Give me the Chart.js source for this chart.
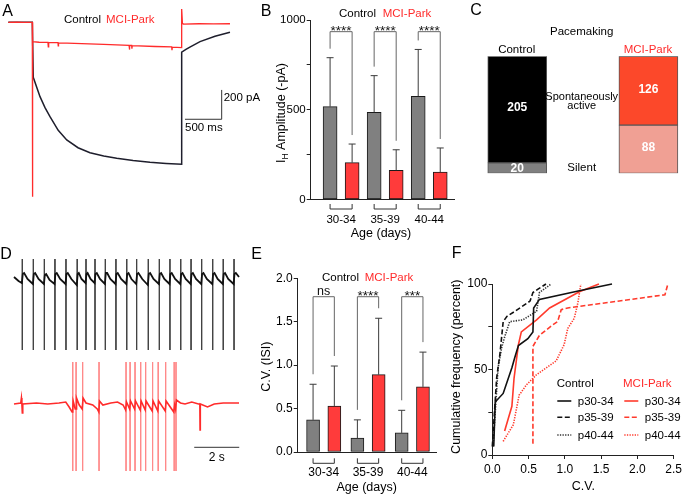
<!DOCTYPE html>
<html>
<head>
<meta charset="utf-8">
<script src="https://cdn.jsdelivr.net/npm/chart.js@4.4.0/dist/chart.umd.min.js"></script>
<style>
  body { margin: 0; background: #fff; }
  #wrap { position: relative; width: 685px; height: 494px; background: #fff; }
  #wrap canvas { position: absolute; left: 0; top: 0; }
</style>
</head>
<body>
<div id="wrap">
  <canvas id="cA" width="685" height="494"></canvas>
  <canvas id="cB" width="685" height="494"></canvas>
  <canvas id="cC" width="685" height="494"></canvas>
  <canvas id="cD" width="685" height="494"></canvas>
  <canvas id="cE" width="685" height="494"></canvas>
  <canvas id="cF" width="685" height="494"></canvas>
</div>
<script>
// ---------- data ----------
// A: Ih current traces [time ms, current pA]
const ihControlTrace = [[0,0],[327,0],[340,-375],[432,-507],[500,-582],[568,-643],[680,-736],[796,-802],[950,-855],[1113,-889],[1300,-912],[1477,-927],[1700,-942],[1930,-954],[2150,-962],[2362,-968],[2362,-204],[2420,-185],[2480,-168],[2612,-132],[2816,-95],[3020,-68]];
const ihParkTrace = [[0,0],[120,1],[200,-1],[327,0],[327,-1190],[331,-150],[335,-132],[420,-136],[540,-137],[545,-168],[550,-138],[677,-139],[680,-160],[684,-140],[800,-142],[1000,-146],[1300,-151],[1645,-157],[1650,-186],[1655,-158],[1681,-158],[1684,-180],[1688,-159],[2000,-165],[2226,-168],[2230,-190],[2234,-169],[2362,-173],[2362,90],[2372,-6],[2385,-12],[2600,-10],[2800,-11],[3020,-10]];

// D: spontaneous firing [time s, mV-ish offset]
const spikeTimesControl = [0.37,0.86,1.35,1.82,2.31,2.81,3.2,3.6,4.06,4.53,5.01,5.45,5.97,6.46,6.93,7.41,7.87,8.34,8.83,9.3,9.78];
const spikeTimesPark = [2.61,2.76,3.05,3.78,4.98,5.16,5.38,5.63,5.85,6.16,6.41,6.74,7.12,7.2];
const controlSpikeTop = 106, controlSpikeBottom = 15;
const parkSpikeTop = 3, parkSpikeBottom = -106;
const firingControlTrace = [
  [0,88],[0.2,84],[0.35,82],
  [0.39,91],[0.45,92],[0.6,86],[0.84,81],
  [0.88,91],[0.94,92],[1.09,86],[1.33,81],
  [1.37,90],[1.43,91],[1.58,85],[1.8,81],
  [1.84,91],[1.9,92],[2.05,86],[2.29,81],
  [2.33,91],[2.39,92],[2.55,86],[2.79,80],
  [2.83,91],[2.88,92],[3.0,86],[3.18,82],
  [3.22,91],[3.27,92],[3.4,86],[3.58,82],
  [3.62,91],[3.68,92],[3.82,86],[4.04,81],
  [4.08,92],[4.14,92],[4.28,86],[4.51,81],
  [4.55,91],[4.61,92],[4.76,86],[4.99,81],
  [5.03,91],[5.09,92],[5.22,86],[5.43,81],
  [5.47,91],[5.53,92],[5.7,86],[5.95,80],
  [5.99,91],[6.05,92],[6.2,86],[6.44,81],
  [6.48,91],[6.54,92],[6.68,86],[6.91,81],
  [6.95,91],[7.01,92],[7.16,86],[7.39,81],
  [7.43,91],[7.49,92],[7.63,86],[7.85,81],
  [7.89,91],[7.95,92],[8.09,86],[8.32,81],
  [8.36,91],[8.42,92],[8.57,86],[8.81,81],
  [8.85,91],[8.91,92],[9.05,86],[9.28,81],
  [9.32,91],[9.38,92],[9.52,86],[9.76,81],
  [9.8,91],[9.86,92],[10.0,88]
];
const firingParkTrace = [
  [0,-39],[0.3,-38],[0.33,-33],[0.35,-39],[0.37,-48],[0.39,-39],[1.0,-38],[1.5,-39],[2.0,-38],[2.3,-37],[2.45,-42],[2.58,-47],[2.61,-45],
  [2.63,-36],[2.72,-44],[2.76,-44],[2.78,-33],[2.9,-40],[3.03,-44],[3.07,-33],[3.2,-38],[3.5,-40],[3.7,-44],[3.77,-47],
  [3.8,-36],[3.95,-40],[4.3,-38],[4.6,-37],[4.85,-40],[4.96,-45],[5.0,-37],[5.14,-44],[5.18,-36],[5.36,-44],[5.4,-36],[5.61,-45],
  [5.65,-36],[5.83,-45],[5.87,-36],[6.14,-46],[6.18,-36],[6.39,-46],[6.43,-36],[6.72,-46],[6.76,-36],[7.1,-47],[7.14,-40],[7.18,-44],
  [7.22,-35],[7.4,-38],[7.6,-39],[7.9,-37],[8.2,-39],[8.26,-39],[8.27,-65],[8.28,-39],[8.6,-42],[8.9,-39],[9.3,-38],[9.7,-38],[10.0,-38]
];

// B: Ih amplitude (-pA), mean and SD
const ageGroups = ['30-34', '35-39', '40-44'];
const ihControl = [517, 486, 575];
const ihControlSD = [273, 204, 261];
const ihPark = [205, 163, 153];
const ihParkSD = [104, 114, 134];
const ihSig = ['****', '****', '****'];

// C: pacemaking counts
const paceGroups = ['Control', 'MCI-Park'];
const activeCounts = [205, 126];
const silentCounts = [20, 88];

// E: CV of ISI, mean and SD
const cvControl = [0.37, 0.16, 0.22];
const cvControlSD = [0.41, 0.21, 0.26];
const cvPark = [0.53, 0.89, 0.75];
const cvParkSD = [0.46, 0.65, 0.40];
const cvSig = ['ns', '****', '***'];

// F: cumulative CV distributions
const cumAgeLabels = ['p30-34', 'p35-39', 'p40-44'];
const cvCtrl30 = [0.02, 0.04, 0.15, 0.27, 0.31, 0.36, 0.49, 0.56, 0.57, 0.65, 1.2, 1.65];
const pctCtrl30 = [5, 31, 36, 51, 57, 64, 68, 72, 86, 91, 96, 100];
const cvCtrl35 = [0.0, 0.06, 0.105, 0.15, 0.2, 0.31, 0.52, 0.56, 0.63, 0.74];
const pctCtrl35 = [5, 45, 59, 78, 81, 84, 90, 95, 97, 100];
const cvCtrl40 = [0.01, 0.08, 0.13, 0.17, 0.24, 0.42, 0.61, 0.65, 0.81];
const pctCtrl40 = [5, 51, 63, 69, 78, 79, 84, 95, 100];
const cvPark30 = [0.17, 0.27, 0.3, 0.36, 0.4, 0.61, 0.79, 1.2, 1.47];
const pctPark30 = [14, 28.5, 45, 64.5, 72, 79, 86, 95.5, 100];
const cvPark35 = [0.55, 0.56, 0.56, 0.65, 0.83, 0.9, 0.95, 1.04, 2.38, 2.42];
const pctPark35 = [7, 7, 63.5, 70, 76, 78, 85, 86, 93.7, 100];
const cvPark40 = [0.15, 0.29, 0.37, 0.47, 0.61, 0.88, 0.99, 1.04, 1.13, 1.18, 1.22];
const pctPark40 = [8, 17.7, 35, 41, 47, 55, 64.5, 74, 80, 89, 100];

// ---------- style ----------
const FONT = "'Liberation Sans', Arial, Helvetica, sans-serif";
const RED = '#ff2b2b';
const BAR_RED = '#ff3b3b';
const BAR_GREY = '#808080';
const AXIS = '#222';

Chart.defaults.font.family = FONT;
Chart.defaults.color = '#000';
Chart.defaults.animation = false;
Chart.defaults.responsive = false;
Chart.defaults.events = [];
Chart.defaults.plugins.legend.display = false;
Chart.defaults.plugins.tooltip.enabled = false;

// text drawn in canvas; y is the visual centre of capitals
function drawLabel(ctx, it) {
    const size = it.size || 11.5;
    const parts = it.parts || [{ t: it.t }];
    const fontOf = p => (it.bold ? 'bold ' : '') + (p.sub ? size * 0.68 : size) + 'px ' + FONT;
    ctx.save();
    ctx.fillStyle = it.color || '#000';
    ctx.textAlign = 'left';
    ctx.textBaseline = 'alphabetic';
    ctx.translate(it.x, it.y);
    if (it.rot) ctx.rotate(it.rot);
    let total = 0;
    const widths = parts.map(p => {
        ctx.font = fontOf(p);
        const w = ctx.measureText(p.t).width;
        total += w;
        return w;
    });
    let x0 = it.align === 'left' ? 0 : it.align === 'right' ? -total : -total / 2;
    parts.forEach((p, i) => {
        ctx.font = fontOf(p);
        ctx.fillText(p.t, x0, size * 0.36 + (p.sub ? size * 0.28 : 0));
        x0 += widths[i];
    });
    ctx.restore();
}

Chart.register({
    id: 'panelText',
    afterDraw(chart, args, opts) {
        (opts.items || []).forEach(it => drawLabel(chart.ctx, it));
    }
});

const toXY = arr => arr.map(([x, y]) => ({ x, y }));
const spikePoints = (times, top, bottom) => times.flatMap(t => [{ x: t, y: top }, { x: t, y: bottom }, { x: t, y: null }]);

// ---------- A: Ih traces ----------
new Chart(document.getElementById('cA'), {
    type: 'scatter',
    data: {
        datasets: [
            { data: toXY(ihParkTrace), showLine: true, pointRadius: 0, borderColor: RED, borderWidth: 1.3 },
            { data: toXY(ihControlTrace), showLine: true, pointRadius: 0, borderColor: '#1e1e2c', borderWidth: 1.5 }
        ]
    },
    options: {
        layout: { padding: 0 },
        scales: {
            x: { type: 'linear', display: false, min: -113.1, max: 9219 },
            y: { display: false, min: -3215.4, max: 152 }
        },
        plugins: {
            panelText: {
                items: [
                    { t: 'A', x: 7.5, y: 10.5, size: 16 },
                    { t: 'Control', x: 82.5, y: 19.3 },
                    { t: 'MCI-Park', x: 130.3, y: 19.3, color: RED }
                ]
            }
        }
    },
    plugins: [{
        id: 'scaleBarA',
        afterDraw(chart) {
            const { ctx, scales: { x, y } } = chart;
            const x0 = x.getPixelForValue(2407), x1 = x.getPixelForValue(2907);
            const y0 = y.getPixelForValue(-661), y1 = y.getPixelForValue(-461);
            ctx.save();
            ctx.strokeStyle = '#333';
            ctx.lineWidth = 1;
            ctx.beginPath();
            ctx.moveTo(x0, y0); ctx.lineTo(x1, y0); ctx.lineTo(x1, y1);
            ctx.stroke();
            ctx.restore();
            drawLabel(ctx, { t: '200 pA', x: x1 + 2, y: y1 + 6.5, align: 'left' });
            drawLabel(ctx, { t: '500 ms', x: x0, y: y0 + 7.5, align: 'left' });
        }
    }]
});

// ---------- D: firing traces ----------
new Chart(document.getElementById('cD'), {
    type: 'scatter',
    data: {
        datasets: [
            { data: toXY(firingControlTrace), showLine: true, pointRadius: 0, borderColor: '#111', borderWidth: 1.8 },
            { data: toXY(firingParkTrace), showLine: true, pointRadius: 0, borderColor: RED, borderWidth: 1.6 },
            { data: spikePoints(spikeTimesControl, controlSpikeTop, controlSpikeBottom), showLine: true, spanGaps: false, pointRadius: 0, borderColor: '#444', borderWidth: 1 },
            { data: spikePoints(spikeTimesPark, parkSpikeTop, parkSpikeBottom), showLine: true, spanGaps: false, pointRadius: 0, borderColor: '#ff8a8a', borderWidth: 1 }
        ]
    },
    options: {
        layout: { padding: 0 },
        scales: {
            x: { type: 'linear', display: false, min: -0.6222, max: 29.822 },
            y: { display: false, min: -129, max: 365 }
        },
        plugins: {
            panelText: { items: [{ t: 'D', x: 6, y: 253, size: 16 }] }
        }
    },
    plugins: [{
        id: 'scaleBarD',
        afterDraw(chart) {
            const { ctx, scales: { x, y } } = chart;
            const x0 = x.getPixelForValue(8.01), x1 = x.getPixelForValue(10.01);
            const yy = y.getPixelForValue(-82.3);
            ctx.save();
            ctx.strokeStyle = '#333';
            ctx.lineWidth = 1;
            ctx.beginPath();
            ctx.moveTo(x0, yy); ctx.lineTo(x1, yy);
            ctx.stroke();
            ctx.restore();
            drawLabel(ctx, { t: '2 s', x: (x0 + x1) / 2, y: yy + 9, size: 12 });
        }
    }]
});

// ---------- B / E: grouped bars with SD and brackets ----------
const barExtras = {
    id: 'barExtras',
    afterDatasetsDraw(chart, args, o) {
        const { ctx, scales: { y }, chartArea } = chart;
        const mc = chart.getDatasetMeta(0).data;
        const mp = chart.getDatasetMeta(1).data;
        const seg = (x1, y1, x2, y2) => { ctx.beginPath(); ctx.moveTo(x1, y1); ctx.lineTo(x2, y2); ctx.stroke(); };
        ctx.save();
        ctx.lineWidth = 1;
        o.groups.forEach((g, i) => {
            const tc = y.getPixelForValue(o.ctrl[i] + o.ctrlSD[i]);
            const tp = y.getPixelForValue(o.park[i] + o.parkSD[i]);
            ctx.strokeStyle = '#3a3a3a';
            [[mc[i], tc], [mp[i], tp]].forEach(([el, t]) => {
                seg(el.x, el.y, el.x, t);
                seg(el.x - o.cap, t, el.x + o.cap, t);
            });
            // significance bracket
            const yt = y.getPixelForValue(o.sigTop);
            ctx.strokeStyle = '#666';
            ctx.beginPath();
            ctx.moveTo(mc[i].x, tc - o.gap);
            ctx.lineTo(mc[i].x, yt);
            ctx.lineTo(mp[i].x, yt);
            ctx.lineTo(mp[i].x, tp - o.gap);
            ctx.stroke();
            const s = o.sig[i];
            ctx.fillStyle = '#111';
            ctx.textAlign = 'center';
            ctx.textBaseline = 'alphabetic';
            ctx.font = (s === 'ns' ? '12.5px ' : '13.5px ') + FONT;
            ctx.fillText(s, (mc[i].x + mp[i].x) / 2, s === 'ns' ? yt - 1.7 : yt + 3.2);
            // group bracket under the axis
            const yb = chartArea.bottom + o.drop;
            ctx.strokeStyle = '#333';
            ctx.beginPath();
            ctx.moveTo(mc[i].x, yb - 5);
            ctx.lineTo(mc[i].x, yb);
            ctx.lineTo(mp[i].x, yb);
            ctx.lineTo(mp[i].x, yb - 5);
            ctx.stroke();
        });
        ctx.restore();
    }
};

function barPanel(id, o) {
    const xs = o.groups.map((_, i) => i + 1);
    return new Chart(document.getElementById(id), {
        type: 'bar',
        data: {
            datasets: [
                {
                    label: 'Control',
                    data: xs.map((x, i) => ({ x: x - o.off, y: o.ctrl[i] })),
                    backgroundColor: BAR_GREY, borderColor: '#1a1a1a', borderWidth: 1,
                    borderSkipped: false, barThickness: o.thick, grouped: false
                },
                {
                    label: 'MCI-Park',
                    data: xs.map((x, i) => ({ x: x + o.off, y: o.park[i] })),
                    backgroundColor: BAR_RED, borderColor: '#1a1a1a', borderWidth: 1,
                    borderSkipped: false, barThickness: o.thick, grouped: false
                }
            ]
        },
        options: {
            layout: { padding: o.pad },
            scales: {
                x: {
                    type: 'linear', min: o.xMin, max: o.xMax, offset: false,
                    afterFit: s => { s.height = 40; },
                    afterBuildTicks: s => { s.ticks = xs.map(v => ({ value: v })); },
                    ticks: { callback: v => o.groups[v - 1], padding: o.xPad, font: { size: o.fs }, maxRotation: 0, autoSkip: false, color: '#000' },
                    grid: { display: false, drawTicks: false },
                    border: { display: true, color: AXIS, width: 1 }
                },
                y: {
                    min: 0, max: o.yMax,
                    afterFit: s => { s.width = 45; },
                    afterBuildTicks: s => { s.ticks = o.yTicks.map(v => ({ value: v })); },
                    ticks: { callback: v => o.yLabels.includes(v) ? o.fmt(v) : '', padding: 1, font: { size: o.fs }, color: '#000' },
                    grid: { display: true, drawOnChartArea: false, drawTicks: true, tickLength: 4, color: AXIS },
                    border: { display: true, color: AXIS, width: 1 }
                }
            },
            plugins: {
                panelText: { items: o.texts },
                barExtras: o
            }
        },
        plugins: [barExtras]
    });
}

barPanel('cB', {
    groups: ageGroups, ctrl: ihControl, ctrlSD: ihControlSD, park: ihPark, parkSD: ihParkSD, sig: ihSig,
    sigTop: 935, gap: 9, cap: 3.5, drop: 9.5, off: 0.25, thick: 14,
    xMin: 0.31, xMax: 3.585, yMax: 1000,
    yTicks: [0, 250, 500, 750, 1000], yLabels: [0, 500, 1000], fmt: v => String(v),
    pad: { left: 265.7, right: 230, top: 20, bottom: 254.5 }, xPad: 13.4, fs: 11.5,
    texts: [
        { t: 'B', x: 266, y: 10, size: 16 },
        { t: 'Control', x: 357.5, y: 13.3 },
        { t: 'MCI-Park', x: 407, y: 13.3, color: RED },
        { parts: [{ t: 'I' }, { t: 'H', sub: true }, { t: ' Amplitude (-pA)' }], x: 280, y: 113, size: 12.5, rot: -Math.PI / 2 },
        { t: 'Age (days)', x: 381, y: 232, size: 12.5 }
    ]
});

barPanel('cE', {
    groups: ageGroups, ctrl: cvControl, ctrlSD: cvControlSD, park: cvPark, parkSD: cvParkSD, sig: cvSig,
    sigTop: 1.788, gap: 10, cap: 3.5, drop: 11.3, off: 0.24, thick: 13,
    xMin: 0.413, xMax: 3.557, yMax: 2,
    yTicks: [0, 0.5, 1, 1.5, 2], yLabels: [0, 0.5, 1, 1.5, 2], fmt: v => v.toFixed(1),
    pad: { left: 252.7, right: 248, top: 278.3, bottom: 2 }, xPad: 13.6, fs: 12,
    texts: [
        { t: 'E', x: 256.7, y: 253.7, size: 16 },
        { t: 'Control', x: 340.5, y: 276.7 },
        { t: 'MCI-Park', x: 389, y: 276.7, color: RED },
        { t: 'C.V. (ISI)', x: 265, y: 366.7, size: 12.5, rot: -Math.PI / 2 },
        { t: 'Age (days)', x: 366.7, y: 486, size: 12.5 }
    ]
});

// ---------- C: pacemaking stacked bars ----------
const paceTotals = activeCounts.map((a, i) => a + silentCounts[i]);
new Chart(document.getElementById('cC'), {
    type: 'bar',
    data: {
        datasets: [
            {
                label: 'Silent',
                data: paceGroups.map((g, i) => ({ x: i + 1, y: silentCounts[i] / paceTotals[i] * 100 })),
                counts: silentCounts,
                backgroundColor: ['#808080', '#f0a094'], borderColor: '#555', borderWidth: 1,
                borderSkipped: false, barThickness: 59
            },
            {
                label: 'Spontaneously active',
                data: paceGroups.map((g, i) => ({ x: i + 1, y: activeCounts[i] / paceTotals[i] * 100 })),
                counts: activeCounts,
                backgroundColor: ['#000000', '#fc482a'], borderColor: '#555', borderWidth: 1,
                borderSkipped: false, barThickness: 59
            }
        ]
    },
    options: {
        layout: { padding: { left: 451, right: 0, top: 56.3, bottom: 320.7 } },
        scales: {
            x: { type: 'linear', display: false, min: 0.495, max: 2.279, stacked: true, offset: false },
            y: { display: false, min: 0, max: 100, stacked: true }
        },
        plugins: {
            panelText: {
                items: [
                    { t: 'C', x: 476, y: 9.7, size: 16 },
                    { t: 'Pacemaking', x: 581.7, y: 31 },
                    { t: paceGroups[0], x: 516.7, y: 49 },
                    { t: paceGroups[1], x: 648, y: 49, color: RED },
                    { t: 'Spontaneously', x: 581.7, y: 96.5, size: 11 },
                    { t: 'active', x: 581.7, y: 105.5, size: 11 },
                    { t: 'Silent', x: 581.7, y: 166.7 }
                ]
            }
        }
    },
    plugins: [{
        id: 'countLabels',
        afterDatasetsDraw(chart) {
            chart.data.datasets.forEach((ds, d) => {
                chart.getDatasetMeta(d).data.forEach((el, i) => {
                    const h = Math.abs(el.base - el.y);
                    const lift = h > 30 ? 2.5 : 0.5;
                    drawLabel(chart.ctx, { t: String(ds.counts[i]), x: el.x, y: (el.y + el.base) / 2 - lift, color: '#fff', bold: true, size: 12 });
                });
            });
        }
    }]
});

// ---------- F: cumulative frequency ----------
const pairs = (xs, ys) => xs.map((x, i) => ({ x, y: ys[i] }));
const cumLine = (label, xs, ys, color, dash) => ({
    label, data: pairs(xs, ys), showLine: true, pointRadius: 0,
    borderColor: color, borderWidth: 1.6, borderDash: dash, clip: false
});
new Chart(document.getElementById('cF'), {
    type: 'scatter',
    data: {
        datasets: [
            cumLine(cumAgeLabels[0], cvCtrl30, pctCtrl30, '#111', []),
            cumLine(cumAgeLabels[1], cvCtrl35, pctCtrl35, '#111', [5, 2.5]),
            cumLine(cumAgeLabels[2], cvCtrl40, pctCtrl40, '#333', [1.3, 1.3]),
            cumLine(cumAgeLabels[0], cvPark30, pctPark30, '#ff3a2c', []),
            cumLine(cumAgeLabels[1], cvPark35, pctPark35, '#ff3a2c', [5, 2.5]),
            cumLine(cumAgeLabels[2], cvPark40, pctPark40, '#ff3a2c', [1.3, 1.3])
        ]
    },
    options: {
        layout: { padding: { left: 452.3, right: 10, top: 284, bottom: 9 } },
        scales: {
            x: {
                type: 'linear', min: 0, max: 2.5,
                afterFit: s => { s.height = 30; },
                afterBuildTicks: s => { s.ticks = [0, 0.5, 1, 1.5, 2, 2.5].map(v => ({ value: v })); },
                ticks: { callback: v => v.toFixed(1), padding: 3, font: { size: 12 }, maxRotation: 0, autoSkip: false, color: '#000' },
                grid: { display: true, drawOnChartArea: false, drawTicks: true, tickLength: 4, color: AXIS },
                border: { display: true, color: AXIS, width: 1 }
            },
            y: {
                min: 0, max: 100,
                afterFit: s => { s.width = 40; },
                afterBuildTicks: s => { s.ticks = [0, 25, 50, 75, 100].map(v => ({ value: v })); },
                ticks: { callback: v => (v % 50 === 0 ? String(v) : ''), padding: 1, font: { size: 12 }, color: '#000' },
                grid: { display: true, drawOnChartArea: false, drawTicks: true, tickLength: 4, color: AXIS },
                border: { display: true, color: AXIS, width: 1 }
            }
        },
        plugins: {
            panelText: {
                items: [
                    { t: 'F', x: 456.7, y: 252.7, size: 16 },
                    { t: 'Cumulative frequency (percent)', x: 455, y: 366.7, size: 12.5, rot: -Math.PI / 2 },
                    { t: 'C.V.', x: 583.3, y: 485, size: 12.5 },
                    { t: 'Control', x: 556.7, y: 383.3, align: 'left' },
                    { t: 'MCI-Park', x: 623, y: 383.3, align: 'left', color: RED }
                ]
            }
        }
    },
    plugins: [{
        id: 'cumLegend',
        afterDraw(chart) {
            const ctx = chart.ctx;
            const colX = [557.3, 624.3], rowY = [401, 417.3, 435];
            chart.data.datasets.forEach((ds, i) => {
                const cx = colX[Math.floor(i / 3)], cy = rowY[i % 3];
                ctx.save();
                ctx.strokeStyle = ds.borderColor;
                ctx.lineWidth = ds.borderWidth;
                ctx.setLineDash(ds.borderDash);
                ctx.beginPath();
                ctx.moveTo(cx, cy); ctx.lineTo(cx + 14, cy);
                ctx.stroke();
                ctx.restore();
                drawLabel(ctx, { t: ds.label, x: cx + 20.5, y: cy, align: 'left' });
            });
        }
    }]
});
</script>
</body>
</html>
